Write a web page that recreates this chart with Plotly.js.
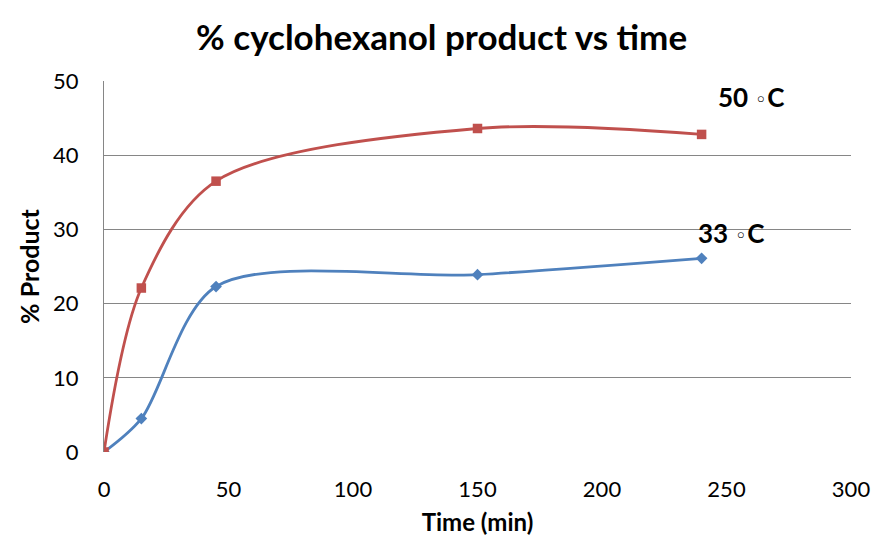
<!DOCTYPE html>
<html>
<head>
<meta charset="utf-8">
<script src="https://cdn.plot.ly/plotly-3.0.1.min.js"></script>
<style>html,body{margin:0;padding:0;background:#fff;}#chart{width:885px;height:556px;}</style>
</head>
<body>
<div id="chart"></div>
<script>
const timeMin = [0, 15, 45, 150, 240];
const product33 = [0, 4.5, 22.3, 23.9, 26.1];
const product50 = [0, 22.1, 36.5, 43.6, 42.8];
const xTicks = [0, 50, 100, 150, 200, 250, 300];
const yTicks = [0, 10, 20, 30, 40, 50];
const seriesNames = ["33", "50"];

const FONT = "Lato, 'Open Sans', sans-serif";
const deg = "<span style=\"font-family:'DejaVu Sans';font-weight:normal;font-size:21px\"> \u25E6</span>";

const traces = [
  {
    x: timeMin, y: product33, type: 'scatter', mode: 'lines+markers', name: seriesNames[0],
    line: {color: '#4F81BD', width: 2.8, shape: 'spline', smoothing: 0.85},
    marker: {symbol: 'diamond', size: 9, color: '#4F81BD'}
  },
  {
    x: timeMin, y: product50, type: 'scatter', mode: 'lines+markers', name: seriesNames[1],
    line: {color: '#C0504D', width: 2.8, shape: 'spline', smoothing: 0.9},
    marker: {symbol: 'square', size: 9.5, color: '#C0504D'}
  }
];

const layout = {
  width: 885, height: 556,
  margin: {l: 104, r: 34, t: 81, b: 104},
  paper_bgcolor: '#fff', plot_bgcolor: '#fff',
  showlegend: false,
  font: {family: FONT, color: '#000', size: 22},
  title: {text: '<b>% cyclohexanol product vs time</b>', x: 0.499, xanchor: 'center', y: 0.932, yanchor: 'middle',
          font: {family: FONT, size: 35, color: '#000'}},
  xaxis: {
    range: [0, 300], tickvals: xTicks, ticktext: xTicks.map(String),
    showgrid: false, zeroline: false, showline: false,
    ticks: 'outside', ticklen: 18, tickcolor: 'rgba(0,0,0,0)',
    tickfont: {family: FONT, size: 22},
    title: {text: '<b>Time (min)</b>', font: {family: FONT, size: 24}, standoff: 12}
  },
  yaxis: {
    range: [0, 50], tickvals: yTicks, ticktext: yTicks.map(String),
    showgrid: true, gridcolor: '#868686', gridwidth: 1, zeroline: false,
    showline: true, linecolor: '#868686', linewidth: 1,
    ticks: 'outside', ticklen: 20, tickcolor: 'rgba(0,0,0,0)',
    tickfont: {family: FONT, size: 22},
    title: {text: '<b>% Product</b>', font: {family: FONT, size: 25}, standoff: 6}
  },
  annotations: [
    {x: 240, y: product50[4], xref: 'x', yref: 'y', text: '<b>' + seriesNames[1] + deg + 'C</b>', showarrow: false,
     xanchor: 'left', yanchor: 'middle', xshift: 14, yshift: 37, font: {family: FONT, size: 26, color: '#000'}},
    {x: 240, y: product33[4], xref: 'x', yref: 'y', text: '<b>' + seriesNames[0] + deg + 'C</b>', showarrow: false,
     xanchor: 'left', yanchor: 'middle', xshift: -6, yshift: 25, font: {family: FONT, size: 26, color: '#000'}}
  ]
};

Plotly.newPlot('chart', traces, layout, {displayModeBar: false, staticPlot: true});
</script>
</body>
</html>
